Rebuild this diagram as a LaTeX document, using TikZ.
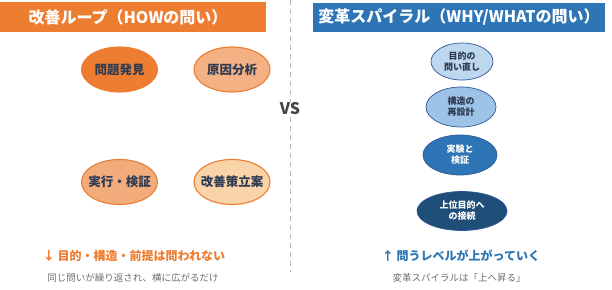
\documentclass[tikz,border=0pt]{standalone}
\usepackage{fontspec}
\setmainfont{Noto Sans CJK JP}
\usetikzlibrary{shapes.geometric}
\definecolor{orng}{HTML}{ED7D31}
\definecolor{orngmid}{HTML}{F2AC7C}
\definecolor{orngl}{HTML}{F4B183}
\definecolor{peach}{HTML}{F9D4A8}
\definecolor{bluh}{HTML}{2E75B6}
\definecolor{blu1}{HTML}{BDD7EE}
\definecolor{blu2}{HTML}{9DC3E6}
\definecolor{blu3}{HTML}{2E75B6}
\definecolor{blu4}{HTML}{1F4E79}
\definecolor{bluedge}{HTML}{2F5597}
\definecolor{navytxt}{HTML}{2F3B52}
\definecolor{graytxt}{HTML}{707070}
\definecolor{vsgray}{HTML}{454545}
\definecolor{dashgray}{HTML}{BBBBBB}
\newcommand{\zb}[1]{\makebox[0pt]{#1}}
\begin{document}
\begin{tikzpicture}[x=1pt,y=-1pt,
  hdr/.style={draw=none,inner sep=0,anchor=center,text=white,font=\bfseries\fontsize{16}{18}\selectfont},
  lell/.style={ellipse,draw=orng,line width=1.1pt,inner sep=0,minimum width=76pt,minimum height=45pt,text=navytxt,font=\bfseries\fontsize{12.5}{14}\selectfont},
  rell/.style={ellipse,draw=bluedge,line width=0.7pt,inner sep=0,align=center,font=\bfseries\fontsize{9}{11}\selectfont},
  bigmsg/.style={inner sep=0,font=\bfseries\fontsize{12}{14}\selectfont},
  submsg/.style={inner sep=0,text=graytxt,font=\fontsize{9.5}{11}\selectfont}]
\useasboundingbox[fill=white] (0,0) rectangle (612,289);
% headers
\fill[orng] (0,2) rectangle (266,32);
\node[hdr] (lh) at (128,17) {改善ループ（HOWの問い）};
\fill[bluh] (313,3) rectangle (605,32);
\node[hdr] (rh) at (459,17.5) {変革スパイラル（WHY/WHATの問い）};
% divider
\coordinate (dtop) at (290.5,0);
\coordinate (dbot) at (290.5,272);
\draw[dashgray,line width=0.8pt,dash pattern=on 5pt off 4pt] (dtop) -- (dbot);
\node[fill=white,inner sep=1pt,text=vsgray,font=\bfseries\fontsize{16}{18}\selectfont] (vs) at (290,109) {VS};
% left ellipses
\node[lell,fill=orng] (e1) at (119.5,69.5) {\zb{問題発見}};
\node[lell,fill=orngl] (e2) at (232,69.5) {\zb{原因分析}};
\node[lell,fill=orngmid] (e3) at (119.5,182) {\zb{実行・検証}};
\node[lell,fill=peach] (e4) at (232,182) {\zb{改善策立案}};
% right ellipses
\node[rell,fill=blu1,text=navytxt,minimum width=62pt,minimum height=37pt] (r1) at (462,61.5) {目的の\\問い直し};
\node[rell,fill=blu2,text=navytxt,minimum width=70pt,minimum height=40pt] (r2) at (461,107) {構造の\\再設計};
\node[rell,fill=blu3,text=white,minimum width=74pt,minimum height=40pt] (r3) at (460,155) {実験と\\検証};
\node[rell,fill=blu4,text=white,minimum width=90pt,minimum height=39pt] (r4) at (462,211) {上位目的へ\\の接続};
% bottom messages
\node[bigmsg,text=orng] (lm) at (134,256) {↓ 目的・構造・前提は問われない};
\node[submsg] (ls) at (133,278) {同じ問いが繰り返され、横に広がるだけ};
\node[bigmsg,text=bluh] (rm) at (461,256) {↑ 問うレベルが上がっていく};
\node[submsg] (rs) at (459,278) {変革スパイラルは「上へ昇る」};
\end{tikzpicture}
\end{document}
